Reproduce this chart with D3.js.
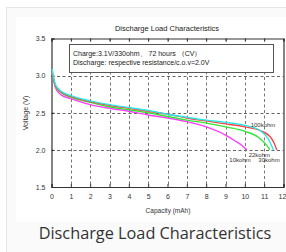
<!DOCTYPE html>
<html><head><meta charset="utf-8">
<script src="https://cdn.jsdelivr.net/npm/d3@7"></script>
<style>
html,body{margin:0;padding:0;background:#fff;}
svg{display:block;}
</style></head>
<body>
<svg id="c" width="286" height="252"></svg>
<script>
const xTicks = [0,1,2,3,4,5,6,7,8,9,10,11,12];
const yTicks = [1.5,2.0,2.5,3.0,3.5];
const yTickLabels = ["1.5","2.0","2.5","3.0","3.5"];
const gridY = [2.0,2.5,3.0];
const gridX = [1,2,3,4,5,6,7,8,9,10,11];

const seriesNames = ["10kohm","22kohm","30kohm","100kohm"];
const seriesColors = ["#ff3cff","#33e633","#ff4040","#2ee6e6"];

const cap10k  = [0.03,0.2,0.5,1,2,3,4,5,6,7,8,9,9.5,9.85,10.1];
const volt10k = [3.05,2.84,2.74,2.69,2.61,2.56,2.52,2.47,2.43,2.38,2.31,2.2,2.12,2.06,2.0];

const cap22k  = [0.03,0.2,0.5,1,2,3,4,5,6,7,8,9,10,10.7,11.1,11.3];
const volt22k = [3.05,2.86,2.77,2.71,2.64,2.58,2.54,2.5,2.45,2.4,2.36,2.31,2.25,2.17,2.07,2.0];

const cap30k  = [0.03,0.2,0.5,1,2,3,4,5,6,7,8,9,10,10.8,11.3,11.5,11.65];
const volt30k = [3.06,2.87,2.78,2.72,2.65,2.6,2.56,2.52,2.48,2.43,2.39,2.35,2.31,2.26,2.18,2.1,2.0];

const cap100k  = [0.03,0.2,0.5,1,2,3,4,5,6,7,8,9,10,10.8,11.2,11.48];
const volt100k = [3.09,2.88,2.79,2.73,2.66,2.61,2.57,2.53,2.48,2.44,2.4,2.37,2.33,2.26,2.15,2.0];

const seriesCaps = [cap10k,cap22k,cap30k,cap100k];
const seriesVolts = [volt10k,volt22k,volt30k,volt100k];

const chartTitle = "Discharge Load Characteristics";
const noteLines = ["Charge:3.1V/330ohm\u3001 72 hours \uff08CV\uff09","Discharge: respective resistance/c.o.v=2.0V"];
const xTitle = "Capacity (mAh)";
const yTitle = "Voltage (V)";
const caption = "Discharge Load Characteristics";

const svg = d3.select("#c");
// card
svg.append("rect").attr("x",6.5).attr("y",7.5).attr("width",290).attr("height",260)
  .attr("fill","#fafafa").attr("stroke","#e6e6e6");
svg.append("rect").attr("x",16).attr("y",17).attr("width",280).attr("height",205).attr("fill","#fff");

const x = d3.scaleLinear().domain([0,12]).range([51.5,283.5]);
const y = d3.scaleLinear().domain([1.5,3.5]).range([187,38.5]);

const g = svg.append("g");
// grid
g.selectAll(".gy").data(gridY).join("line")
  .attr("x1",x(0)).attr("x2",x(12)).attr("y1",d=>Math.round(y(d))+0.5).attr("y2",d=>Math.round(y(d))+0.5)
  .attr("stroke","#666").attr("stroke-dasharray","3,2.5").attr("stroke-width",1);
g.selectAll(".gx").data(gridX).join("line")
  .attr("y1",y(3.5)).attr("y2",y(1.5)).attr("x1",d=>Math.round(x(d))+0.5).attr("x2",d=>Math.round(x(d))+0.5)
  .attr("stroke","#777").attr("stroke-dasharray","3,2.5").attr("stroke-width",1);

// note box
g.append("rect").attr("x",69.5).attr("y",44.5).attr("width",204).attr("height",28)
  .attr("fill","#fff").attr("stroke","#555").attr("stroke-width",1);
g.selectAll(".note").data(noteLines).join("text")
  .attr("x",73).attr("y",(d,i)=>56+i*8.5).text(d=>d)
  .attr("font-family","Liberation Sans, Arial, sans-serif").attr("font-size",7).attr("fill","#222");

// axes
const axB = d3.axisBottom(x).tickValues(xTicks).tickSize(-3).tickPadding(7).tickFormat(d3.format("d"));
const axT = d3.axisTop(x).tickValues(xTicks).tickSize(-3).tickFormat("");
const axL = d3.axisLeft(y).tickValues(yTicks).tickSize(-3).tickPadding(6).tickFormat((d,i)=>yTickLabels[i]);
const axR = d3.axisRight(y).tickValues(yTicks).tickSize(0).tickFormat("");
function style(sel){
  sel.selectAll("path").attr("stroke","#333").attr("stroke-width",1.2);
  sel.selectAll("line").attr("stroke","#333");
  sel.selectAll("text").attr("font-family","Liberation Sans, Arial, sans-serif").attr("font-size",7).attr("fill","#333");
}
g.append("g").attr("transform",`translate(0,${y(3.5)})`).call(axT).call(style);
g.append("g").attr("transform",`translate(${x(12)},0)`).call(axR).call(style);
const bottomAxis = g.append("g").attr("transform",`translate(0,${y(1.5)})`).call(axB).call(style);
bottomAxis.selectAll(".tick text").filter(d=>d===12).attr("text-anchor","end").attr("dx","2.3");
g.append("g").attr("transform",`translate(${x(0)},0)`).call(axL).call(style);

// curves
const line = d3.line().x(d=>x(d[0])).y(d=>y(d[1])).curve(d3.curveMonotoneX);
seriesNames.forEach((n,i)=>{
  const pts = seriesCaps[i].map((c,j)=>[c,seriesVolts[i][j]]);
  g.append("path").datum(pts).attr("d",line).attr("fill","none")
    .attr("stroke",seriesColors[i]).attr("stroke-width",1.4);
});

// series labels
const labelPos = {"100kohm":[10.3,2.31],"22kohm":[10.2,1.9],"10kohm":[9.2,1.83],"30kohm":[10.7,1.83]};
seriesNames.forEach(n=>{
  g.append("text").attr("x",x(labelPos[n][0])).attr("y",y(labelPos[n][1])).text(n)
    .attr("font-family","Liberation Sans, Arial, sans-serif").attr("font-size",6).attr("fill","#333");
});

// titles
svg.append("text").attr("x",167).attr("y",31).attr("text-anchor","middle").text(chartTitle)
  .attr("font-family","Liberation Sans, Arial, sans-serif").attr("font-size",7.5).attr("fill","#222");
svg.append("text").attr("x",168).attr("y",213).attr("text-anchor","middle").text(xTitle)
  .attr("font-family","Liberation Sans, Arial, sans-serif").attr("font-size",6.5).attr("fill","#333");
svg.append("text").attr("transform","translate(28,113) rotate(-90)").attr("text-anchor","middle").text(yTitle)
  .attr("font-family","Liberation Sans, Arial, sans-serif").attr("font-size",7).attr("fill","#333");

// caption
svg.append("text").attr("x",155).attr("y",239).attr("text-anchor","middle").text(caption)
  .attr("font-family","Open Sans, sans-serif").attr("font-size",16.3).attr("fill","#333");
</script>
</body></html>
